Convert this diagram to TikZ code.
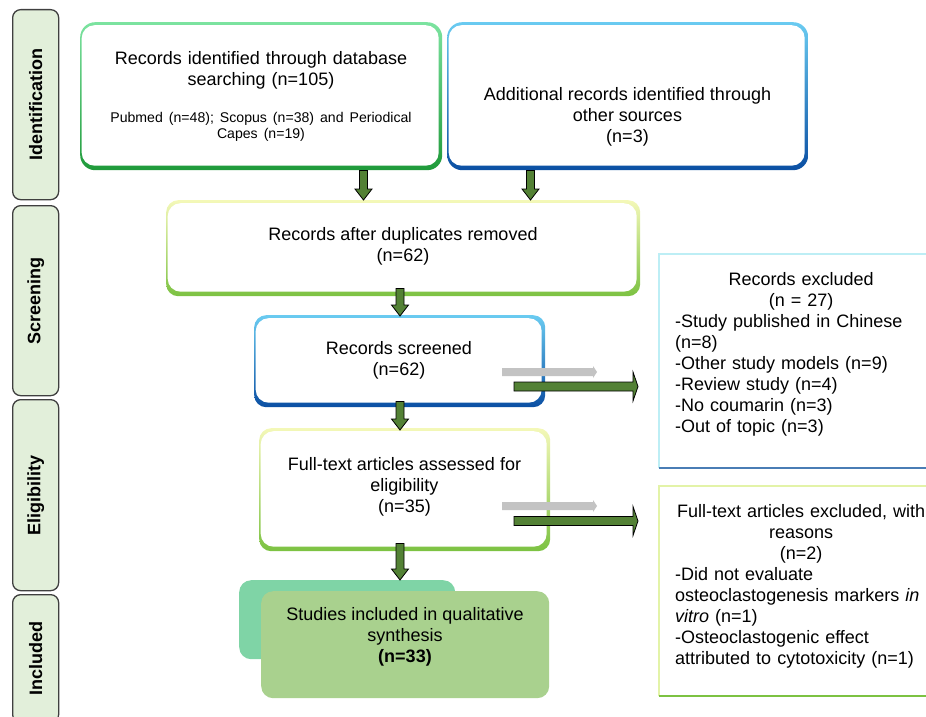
\documentclass[tikz,border=0pt]{standalone}
\usepackage{fontspec}
\setmainfont{Liberation Sans}
\usepackage{graphicx}
\usetikzlibrary{calc}
\definecolor{stagefill}{HTML}{E2EFDA}
\definecolor{stagedraw}{HTML}{3F3F3F}
\definecolor{gtop}{HTML}{7CE3A0}
\definecolor{gbot}{HTML}{1F9A3A}
\definecolor{btop}{HTML}{6ACBF1}
\definecolor{bbot}{HTML}{0B4FA3}
\definecolor{ytop}{HTML}{F4F8B8}
\definecolor{ybot}{HTML}{7CC242}
\definecolor{backgreen}{HTML}{7FD4A6}
\definecolor{frontgreen}{HTML}{A9D18E}
\definecolor{arrowgreen}{HTML}{538135}
\definecolor{arrowgray}{HTML}{C3C3C3}
\definecolor{rcyan}{HTML}{BDEEF5}
\definecolor{rblue}{HTML}{4A7DB5}
\definecolor{ryel}{HTML}{E3F3A8}
\begin{document}
\begin{tikzpicture}[x=1pt,y=-1pt,font=\fontsize{18}{21}\selectfont,
  stage/.style={draw=stagedraw,line width=1.3pt,fill=stagefill,rounded corners=8pt,
    anchor=north west,inner sep=0pt,minimum width=46pt,font=\fontsize{18}{21}\selectfont\bfseries},
  pbox/.style 2 args={anchor=north west,inner sep=0pt,rounded corners=15pt,
    top color=#1,bottom color=#2,
    path picture={\fill[white,rounded corners=13pt]
      ([xshift=1.5pt,yshift=-3pt]path picture bounding box.north west) rectangle
      ([xshift=-3.5pt,yshift=4.5pt]path picture bounding box.south east);}},
  txt/.style={align=center,inner sep=0pt},
  rtxt/.style={anchor=north west,align=left,text width=252pt,inner sep=0pt},
  fat/.style={fill=arrowgreen,draw=black,line width=0.8pt,line join=miter},
  vfat/.style={fat,to path={let \p1=(\tikztostart), \p2=(\tikztotarget) in
    (\x1-4pt,\y1) -- (\x1-4pt,\y2+11pt) -- (\x1-8.5pt,\y2+11pt) -- (\x1,\y2)
    -- (\x1+8.5pt,\y2+11pt) -- (\x1+4pt,\y2+11pt) -- (\x1+4pt,\y1) -- cycle}},
  hfat/.style={fat,to path={let \p1=(\tikztostart), \p2=(\tikztotarget) in
    (\x1,\y1-4.5pt) -- (\x2-5pt,\y1-4.5pt) -- (\x2-5pt,\y1-14.5pt) -- (\x2,\y1)
    -- (\x2-5pt,\y1+14.5pt) -- (\x2-5pt,\y1+4.5pt) -- (\x1,\y1+4.5pt) -- cycle}},
  hgray/.style={fill=arrowgray,draw=none,to path={let \p1=(\tikztostart), \p2=(\tikztotarget) in
    (\x1,\y1-4pt) -- (\x2-4pt,\y1-4pt) -- (\x2-4pt,\y1-6pt) -- (\x2,\y1)
    -- (\x2-4pt,\y1+6pt) -- (\x2-4pt,\y1+4pt) -- (\x1,\y1+4pt) -- cycle}}
]
\useasboundingbox (0,0) rectangle (926,717);

% stage bars
\node[stage,minimum height=190pt] (s1) at (12,9) {\rotatebox{90}{Identification}};
\node[stage,minimum height=190pt] (s2) at (12,205) {\rotatebox{90}{Screening}};
\node[stage,minimum height=191pt] (s3) at (12,399) {\rotatebox{90}{Eligibility}};
\node[stage,minimum height=128pt] (s4) at (12,594) {\rotatebox{90}{Included}};

% main boxes
\node[pbox={gtop}{gbot},minimum width=362pt,minimum height=148pt] (b1) at (80,22) {};
\node[pbox={btop}{bbot},minimum width=361pt,minimum height=148pt] (b2) at (447,22) {};
\node[pbox={ytop}{ybot},minimum width=474pt,minimum height=96pt,rounded corners=12pt] (b3) at (166,200) {};
\node[pbox={btop}{bbot},minimum width=291pt,minimum height=92pt,rounded corners=12pt] (b4) at (254,315) {};
\node[pbox={ytop}{ybot},minimum width=291pt,minimum height=123pt,rounded corners=12pt] (b5) at (259,428) {};
\node[anchor=north west,inner sep=0pt,minimum width=216pt,minimum height=79pt,
  fill=backgreen,rounded corners=12pt] (b6b) at (239,580) {};
\node[anchor=north west,inner sep=0pt,minimum width=288pt,minimum height=107pt,
  fill=frontgreen,rounded corners=12pt] (b6) at (261,591) {};

% right boxes
\node[anchor=north west,inner sep=0pt,minimum width=275pt,minimum height=214pt,fill=white] (r1) at (659,254) {};
\draw[rcyan,line width=1.8pt] (r1.south west) -- (r1.north west) -- (r1.north east);
\draw[rblue,line width=2pt] (r1.south west) -- (r1.south east);
\node[anchor=north west,inner sep=0pt,minimum width=275pt,minimum height=210pt,fill=white] (r2) at (659,486) {};
\draw[ryel,line width=1.8pt] (r2.south west) -- (r2.north west) -- (r2.north east);
\draw[ybot,line width=2pt] (r2.south west) -- (r2.south east);

% texts
\node[txt,text width=350pt] (t1) at (261,96) {Records identified through database\\searching (n=105)\par\vspace{21pt}%
  {\fontsize{14.1}{16}\selectfont Pubmed (n=48); Scopus (n=38) and Periodical\\Capes (n=19)\par}};
\node[txt] (t2) at (627.5,117) {Additional records identified through\\other sources\\(n=3)};
\node[txt] (t3) at (403,246) {Records after duplicates removed\\(n=62)};
\node[txt] (t4) at (399,360) {Records screened\\(n=62)};
\node[txt] (t5) at (404.5,487) {Full-text articles assessed for\\eligibility\\(n=35)};
\node[txt] (t6) at (405,637) {Studies included in qualitative\\synthesis\\\textbf{(n=33)}};
\node[rtxt] (rt1) at (675,272) {{\centering Records excluded\\(n = 27)\par}
  -Study published in Chinese\\(n=8)\\-Other study models (n=9)\\-Review study (n=4)\\-No coumarin (n=3)\\-Out of topic (n=3)};
\node[rtxt] (rt2) at (675,504) {{\centering Full-text articles excluded, with\\reasons\\(n=2)\par}
  -Did not evaluate\\osteoclastogenesis markers \textit{in}\\\textit{vitro} (n=1)\\-Osteoclastogenic effect\\attributed to cytotoxicity (n=1)};

% vertical arrows
\coordinate (xa) at (363.5,0);
\coordinate (xb) at (530.5,0);
\coordinate (xc) at (400,0);
\draw[vfat] (b1.south -| xa) to (b3.north -| xa);
\draw[vfat] (b2.south -| xb) to (b3.north -| xb);
\draw[vfat] ($(b3.south -| xc)+(0,-8)$) to ($(b4.north -| xc)+(0,1)$);
\draw[vfat] ($(b4.south -| xc)+(0,-6)$) to ($(b5.north -| xc)+(0,2)$);
\draw[vfat] ($(b5.south -| xc)+(0,-8)$) to (b6b.north -| xc);

% horizontal arrows
\coordinate (g1) at (502,372);
\coordinate (g2) at (502,506);
\draw[hgray] (g1) to ($(g1 -| r1.west)+(-62,0)$);
\draw[hgray] (g2) to ($(g2 -| r2.west)+(-62,0)$);
\coordinate (h1) at (514,386.5);
\coordinate (h2) at (514,521);
\draw[hfat] (h1) to ($(h1 -| r1.west)+(-21,0)$);
\draw[hfat] (h2) to ($(h2 -| r2.west)+(-21,0)$);
\end{tikzpicture}
\end{document}
